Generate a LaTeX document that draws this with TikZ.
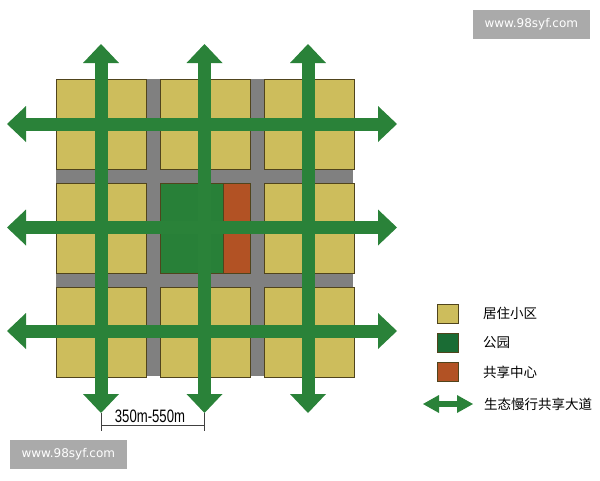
\documentclass[tikz,border=0pt]{standalone}
\usepackage{fontspec}
\setmainfont{Liberation Sans}
\newfontfamily\cjk{Noto Sans CJK SC}
\newfontfamily\markfont{DejaVu Sans}
\usepackage{tikz}
\usetikzlibrary{positioning,arrows.meta}
\definecolor{blockyellow}{RGB}{205,189,92}
\definecolor{blockedge}{RGB}{80,68,28}
\definecolor{roadgray}{RGB}{128,128,128}
\definecolor{roadgreen}{RGB}{42,130,57}
\definecolor{parkgreen}{RGB}{40,128,56}
\definecolor{keygreen}{RGB}{26,108,52}
\definecolor{hubred}{RGB}{178,82,36}
\definecolor{markgray}{RGB}{170,170,170}
\tikzset{
  % Specifications for style of nodes:
  base/.style = {
    rectangle,
    draw=blockedge,
    line width=0.8pt,
    inner sep=0pt
  },
  ground/.style = {
    rectangle,
    fill=roadgray,
    minimum size=297pt,
    inner sep=0pt
  },
  block/.style = {
    base,
    minimum width=90pt,
    minimum height=90pt,
    node distance=13.5pt,
    fill=blockyellow
  },
  park/.style = {
    base,
    minimum width=63pt,
    minimum height=90pt,
    node distance=0pt,
    fill=parkgreen
  },
  hub/.style = {
    base,
    minimum width=27pt,
    minimum height=90pt,
    node distance=0pt,
    fill=hubred
  },
  key/.style = {
    base,
    minimum width=21pt,
    minimum height=19pt,
    node distance=9.5pt
  },
  keytext/.style = {
    font=\cjk\fontsize{13.5}{16}\selectfont,
    inner sep=1pt,
    node distance=23pt
  },
  % Specifications for style of roads:
  road/.style = {
    draw=roadgreen,
    line width=13pt,
    >={Triangle[length=19pt,width=36pt,line width=0pt]},
    <->
  },
  keyroad/.style = {
    draw=roadgreen,
    line width=6pt,
    >={Triangle[length=16pt,width=18pt,line width=0pt]},
    <->
  },
  dim/.style = {
    draw=black!75,
    line width=0.6pt
  },
  stamp/.style = {
    rectangle,
    fill=markgray,
    text=white,
    font=\markfont\fontsize{12}{14}\selectfont,
    minimum width=117pt,
    minimum height=29.5pt,
    inner sep=0pt
  },
}

\begin{document}
\begin{tikzpicture}[x=1pt, y=-1pt]
    \useasboundingbox (0,0) rectangle (600,480);
    % Specification of nodes (position, etc.)
    \node[ground] (ground) at (204.5,227.5) {};
    \node[block] (block0) at (101,124)            {};
    \node[block, right=of block0]       (block1)  {};
    \node[block, right=of block1]       (block2)  {};
    \node[block, below=of block0]       (block3)  {};
    \node[block, right=of block3, draw=none, fill=none] (block4) {};
    \node[block, right=of block4]       (block5)  {};
    \node[block, below=of block3]       (block6)  {};
    \node[block, right=of block6]       (block7)  {};
    \node[block, right=of block7]       (block8)  {};
    \node[park, right=of block4.west]   (park)    {};
    \node[hub, left=of block4.east]     (hub)     {};

    % Ends of the roads
    \coordinate (w0) at (7,124);     \coordinate (e0) at (397,124);
    \coordinate (w1) at (7,227.5);   \coordinate (e1) at (397,227.5);
    \coordinate (w2) at (7,331);     \coordinate (e2) at (397,331);
    \coordinate (n0) at (101,44);    \coordinate (s0) at (101,413);
    \coordinate (n1) at (204.5,44);  \coordinate (s1) at (204.5,413);
    \coordinate (n2) at (308,44);    \coordinate (s2) at (308,413);
    \draw[road] (w0) -- (e0);
    \draw[road] (w1) -- (e1);
    \draw[road] (w2) -- (e2);
    \draw[road] (n0) -- (s0);
    \draw[road] (n1) -- (s1);
    \draw[road] (n2) -- (s2);

    % Block size
    \coordinate (d0) at (101,431);   \coordinate (d1) at (204.5,431);
    \draw[dim] (s0) -- (d0) (s1) -- (d1);
    \draw[dim] ([yshift=6pt]d0) -- ([yshift=6pt]d1);
    \node[font=\fontsize{18}{18}\selectfont, inner sep=0pt] (span) at (150,416.5)
      {\scalebox{0.73}[1]{350m-550m}};

    % Legend
    \node[key, fill=blockyellow] (key1) at (448,313.5) {};
    \node[key, fill=keygreen, below=of key1]  (key2) {};
    \node[key, fill=hubred, below=of key2]    (key3) {};
    \node[keytext, right=of key1] (txt1) {居住小区};
    \node[keytext, right=of key2] (txt2) {公园};
    \node[keytext, right=of key3] (txt3) {共享中心};
    \coordinate (l0) at (423,404);   \coordinate (l1) at (473,404);
    \draw[keyroad] (l0) -- (l1);
    \node[keytext, right=10pt of l1] (txt4) {生态慢行共享大道};

    % Watermarks
    \node[stamp] (mark0) at (531.3,24.6)  {www.98syf.com};
    \node[stamp] (mark1) at (68.3,454.6)  {www.98syf.com};
  \end{tikzpicture}
\end{document}
